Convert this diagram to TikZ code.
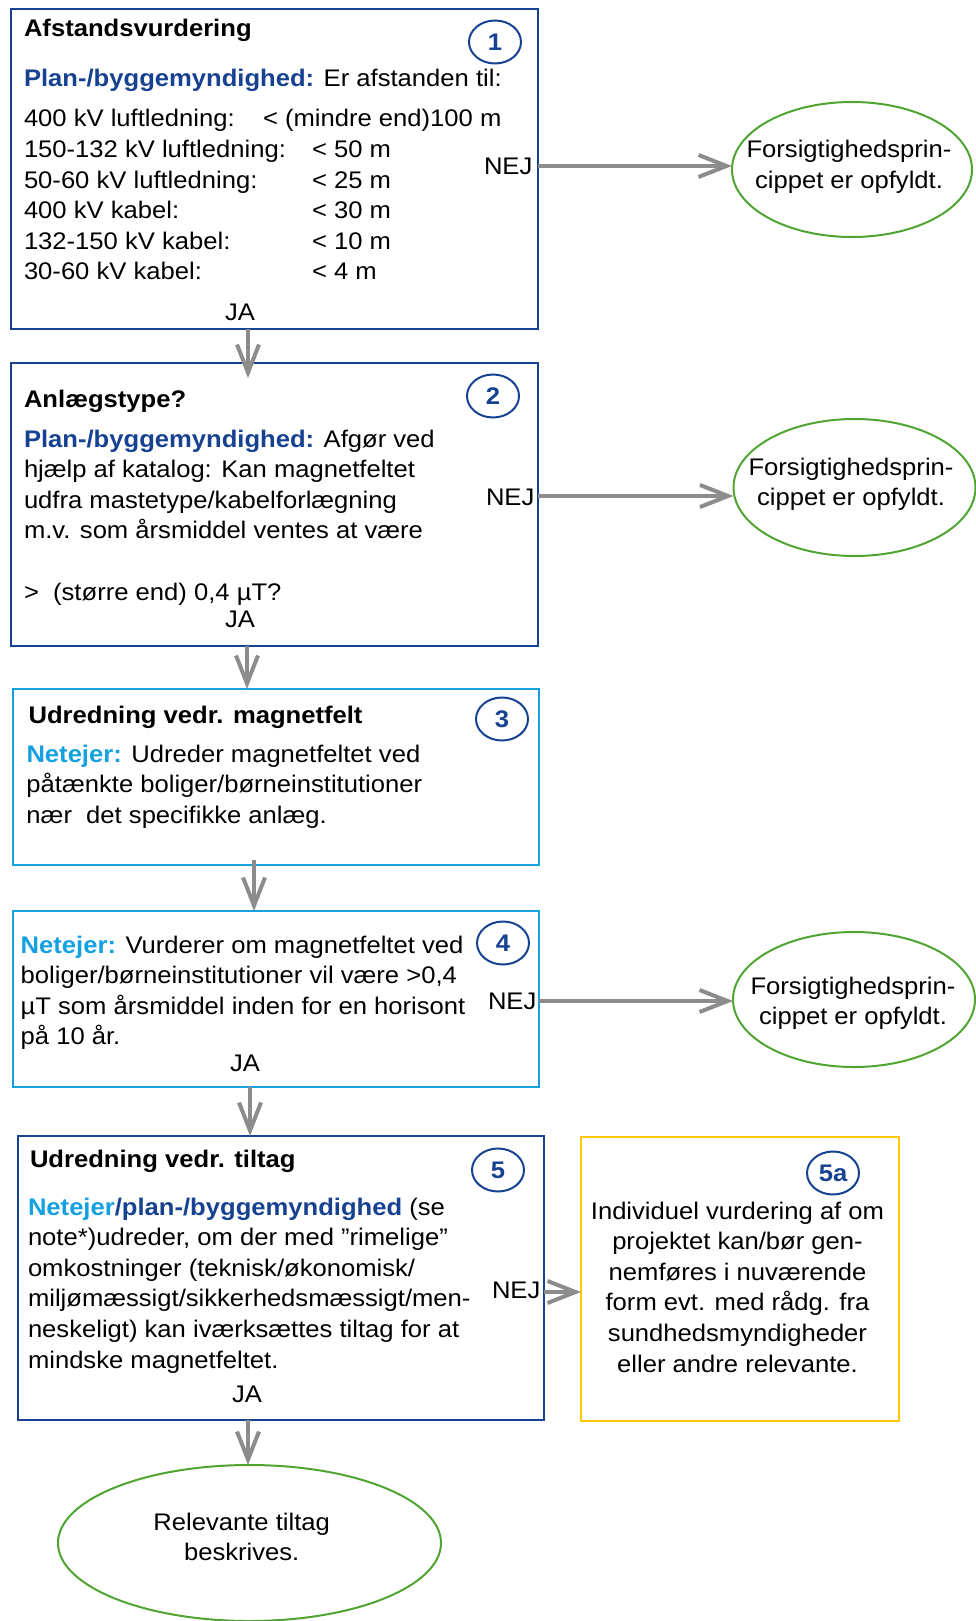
\documentclass[tikz,border=0pt]{standalone}
\usepackage{fontspec}
\setmainfont{Liberation Sans}[FakeStretch=1.067]
\usetikzlibrary{arrows.meta,shapes.geometric}
\definecolor{dblue}{RGB}{22,66,145}
\definecolor{lblue}{RGB}{20,160,225}
\definecolor{egreen}{RGB}{80,165,50}
\definecolor{goldc}{RGB}{255,200,0}
\definecolor{agray}{RGB}{140,140,140}
\newcommand\bodyfont{\fontsize{24pt}{30.6pt}\selectfont}
\newcommand\lpar[1]{\parbox[t]{500pt}{\raggedright #1}}
\newcommand\cpar[1]{\parbox[t]{340pt}{\centering #1}}
\newcommand\pb[1]{\textcolor{dblue}{\bfseries #1}}
\newcommand\nb[1]{\textcolor{lblue}{\bfseries #1}}
\begin{document}
\begin{tikzpicture}[x=1pt,y=-1pt,
  every node/.style={font=\bodyfont, inner sep=0pt, outer sep=0pt},
  boxd/.style={draw=dblue, line width=2pt, rectangle, anchor=north west},
  boxl/.style={draw=lblue, line width=2.2pt, rectangle, anchor=north west},
  boxy/.style={draw=goldc, line width=2pt, rectangle, anchor=north west},
  numc/.style={ellipse, draw=dblue, line width=2pt, minimum width=52pt, minimum height=43pt, font=\bodyfont\bfseries, text=dblue},
  endel/.style={ellipse, draw=egreen, line width=2pt},
  arr/.style={draw=agray, line width=4pt, -{Straight Barb[length=28pt,width=22pt]}},
  head/.style={anchor=base west, font=\bodyfont\bfseries},
  lab/.style={anchor=base}
]
\useasboundingbox (0,0) rectangle (976,1621);

% ---------- Box 1
\node[boxd, minimum width=526.2pt, minimum height=319.7pt] (b1) at (11.4,9.3) {};
\node[head] (h1) at (24,37) {Afstandsvurdering};
\node[numc] (c1) at (495,42) {1};
\node[anchor=base west] (p1) at (24,87) {\pb{Plan-/byggemyndighed:} Er afstanden til:};
\node[anchor=base west] (l1a) at (24,127) {\lpar{400 kV luftledning:\\150-132 kV luftledning:\\50-60 kV luftledning:\\400 kV kabel:\\132-150 kV kabel:\\30-60 kV kabel:}};
\node[anchor=base west] (l1b) at (263,127) {< (mindre end)100 m};
\node[anchor=base west] (l1c) at (312,157.6) {\lpar{< 50 m\\< 25 m\\< 30 m\\< 10 m\\< 4 m}};
\node[anchor=base west] (nej1) at (484,175) {NEJ};
\node[lab] (ja1) at (240,320) {JA};

% ---------- Ellipse 1
\node[endel, minimum width=240pt, minimum height=135pt] (e1) at (852,169.5) {};
\node[lab] (e1t) at (849,158) {\cpar{Forsigtighedsprin-\\cippet er opfyldt.}};

% ---------- Box 2
\node[boxd, minimum width=526.2pt, minimum height=283pt] (b2) at (11.4,363) {};
\node[head] (h2) at (24,407) {Anlægstype?};
\node[numc] (c2) at (493,396) {2};
\node[anchor=base west] (p2) at (24,447) {\lpar{\pb{Plan-/byggemyndighed:} Afgør ved\\hjælp af katalog: Kan magnetfeltet\\udfra mastetype/kabelforlægning\\m.v. som årsmiddel ventes at være\\[30.6pt]>\ \ (større end) 0,4 µT?}};
\node[anchor=base west] (nej2) at (486,505) {NEJ};
\node[lab] (ja2) at (240,627) {JA};

% ---------- Ellipse 2
\node[endel, minimum width=242pt, minimum height=137pt] (e2) at (854.5,487.5) {};
\node[lab] (e2t) at (851,475) {\cpar{Forsigtighedsprin-\\cippet er opfyldt.}};

% ---------- Box 3
\node[boxl, minimum width=526pt, minimum height=176pt] (b3) at (13,689) {};
\node[head] (h3) at (28.6,723) {Udredning vedr. magnetfelt};
\node[numc] (c3) at (502,719) {3};
\node[anchor=base west] (p3) at (26.5,762) {\lpar{\nb{Netejer:} Udreder magnetfeltet ved\\påtænkte boliger/børneinstitutioner\\nær\ \ det specifikke anlæg.}};

% ---------- Box 4
\node[boxl, minimum width=526pt, minimum height=176pt] (b4) at (13,911) {};
\node[numc] (c4) at (503,943) {4};
\node[anchor=base west] (p4) at (20.7,953) {\lpar{\nb{Netejer:} Vurderer om magnetfeltet ved\\boliger/børneinstitutioner vil være >0,4\\µT som årsmiddel inden for en horisont\\på 10 år.}};
\node[anchor=base west] (nej4) at (488,1009) {NEJ};
\node[lab] (ja4) at (245,1071) {JA};

% ---------- Ellipse 3
\node[endel, minimum width=242pt, minimum height=135pt] (e3) at (854,999.5) {};
\node[lab] (e3t) at (853,994) {\cpar{Forsigtighedsprin-\\cippet er opfyldt.}};

% ---------- Box 5
\node[boxd, minimum width=526.4pt, minimum height=284pt] (b5) at (17.6,1136) {};
\node[head] (h5) at (30,1167) {Udredning vedr. tiltag};
\node[numc] (c5) at (498,1170) {5};
\node[anchor=base west] (p5) at (28,1215) {\lpar{\nb{Netejer}\pb{/plan-/byggemyndighed} (se\\note*)udreder, om der med ”rimelige”\\omkostninger (teknisk/økonomisk/\\miljømæssigt/sikkerhedsmæssigt/men-\\neskeligt) kan iværksættes tiltag for at\\mindske magnetfeltet.}};
\node[anchor=base west] (nej5) at (492,1298) {NEJ};
\node[lab] (ja5) at (247,1402) {JA};

% ---------- Box 5a
\node[boxy, minimum width=318pt, minimum height=284pt] (b5a) at (581,1137) {};
\node[numc] (c5a) at (833,1173) {5a};
\node[lab] (p5a) at (737.5,1219) {\cpar{Individuel vurdering af om\\projektet kan/bør gen-\\nemføres i nuværende\\form evt. med rådg. fra\\sundhedsmyndigheder\\eller andre relevante.}};

% ---------- Final ellipse
\node[endel, minimum width=383pt, minimum height=156pt] (e4) at (249.5,1543) {};
\node[lab] (e4t) at (241.7,1530) {\cpar{Relevante tiltag\\beskrives.}};

% ---------- connector levels
\coordinate (y1) at (0,166);
\coordinate (y2) at (0,496);
\coordinate (y4) at (0,1001);
\coordinate (y5) at (0,1292);
\coordinate (x12) at (248,378);
\coordinate (x23) at (247,0);
\coordinate (x34) at (254,860);
\coordinate (x45) at (250,0);
\coordinate (x5e) at (248,0);

% ---------- connectors
\draw[arr] (b1.east |- y1) -- (e1.west |- y1);
\draw[arr] (b2.east |- y2) -- (e2.west |- y2);
\draw[arr] (b4.east |- y4) -- (e3.west |- y4);
\draw[arr] (b5.east |- y5) -- (b5a.west |- y5);
\draw[arr] (b1.south -| x12) -- (x12);
\draw[arr] (b2.south -| x23) -- (b3.north -| x23);
\draw[arr] (x34) -- (b4.north -| x34);
\draw[arr] (b4.south -| x45) -- (b5.north -| x45);
\draw[arr] (b5.south -| x5e) -- (e4.north -| x5e);
\end{tikzpicture}
\end{document}
